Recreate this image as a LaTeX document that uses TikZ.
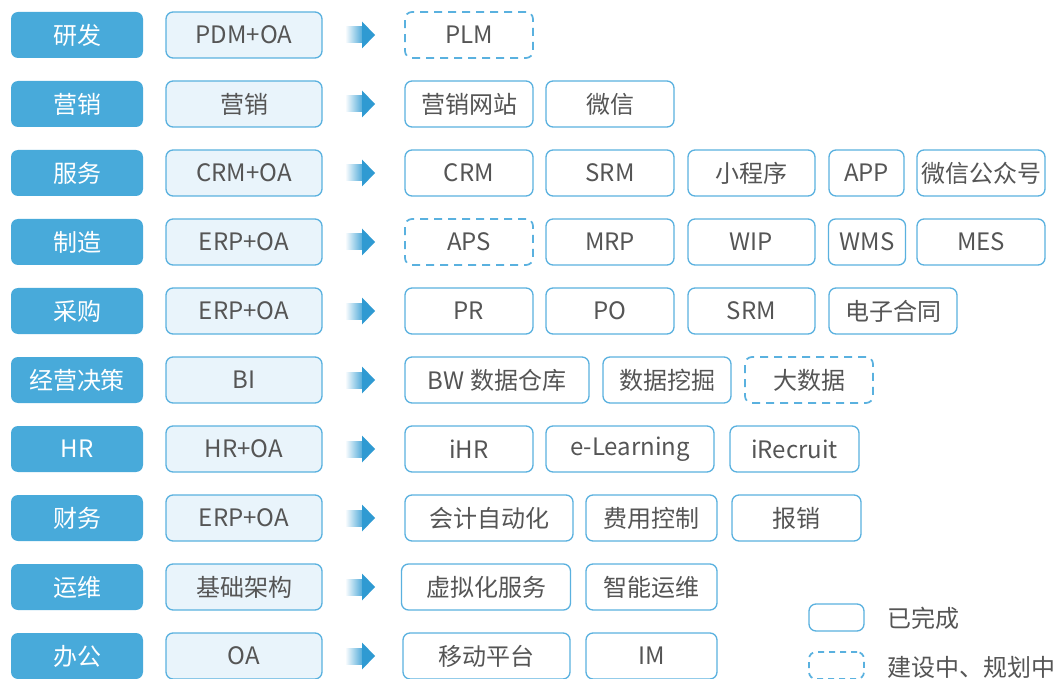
\documentclass[tikz,border=0pt]{standalone}
\usepackage{fontspec}
\setmainfont{Noto Sans CJK SC}
\definecolor{labelblue}{HTML}{48AADA}
\definecolor{lineblue}{HTML}{5AB1DF}
\definecolor{lightfill}{HTML}{E9F4FB}
\definecolor{txtgray}{HTML}{555555}
\definecolor{arrowblue}{HTML}{2F9AD2}
\tikzset{
 base/.style={rounded corners=7pt, minimum height=46pt, inner sep=0pt, font=\fontsize{24}{28}\selectfont, line width=1.3pt},
 catbox/.style={base, fill=labelblue, text=white, minimum width=132pt},
 srcbox/.style={base, draw=lineblue, fill=lightfill, text=txtgray, minimum width=156pt},
 sysbox/.style={base, draw=lineblue, fill=white, text=txtgray, minimum width=128pt},
 planbox/.style={sysbox, line width=1.7pt, dash pattern=on 8pt off 6pt},
 legtext/.style={anchor=west, inner sep=0pt, text=txtgray, font=\fontsize{24}{28}\selectfont},
}
\newcommand\rowarrow[1]{%
  \shade[left color=white, right color=arrowblue!85] (345,#1-8) rectangle (362.5,#1+8);
  \fill[arrowblue] (362,#1-13.5) -- (375,#1) -- (362,#1+13.5) -- cycle;}
\begin{document}
\begin{tikzpicture}[x=1pt,y=-1pt]
\useasboundingbox (0,0) rectangle (1058,679);
% row 1
\node[catbox] (c1) at (77,35) {研发};
\node[srcbox] (s1) at (244,35) {PDM+OA};
\rowarrow{35}
\node[planbox] (r1a) at (469,35) {PLM};
% row 2
\node[catbox] (c2) at (77,104) {营销};
\node[srcbox] (s2) at (244,104) {营销};
\rowarrow{104}
\node[sysbox] (r2a) at (469,104) {营销网站};
\node[sysbox] (r2b) at (610,104) {微信};
% row 3
\node[catbox] (c3) at (77,173) {服务};
\node[srcbox] (s3) at (244,173) {CRM+OA};
\rowarrow{173}
\node[sysbox] (r3a) at (469,173) {CRM};
\node[sysbox] (r3b) at (610,173) {SRM};
\node[sysbox, minimum width=127pt] (r3c) at (751.5,173) {小程序};
\node[sysbox, minimum width=75pt] (r3d) at (866.5,173) {APP};
\node[sysbox] (r3e) at (981,173) {微信公众号};
% row 4
\node[catbox] (c4) at (77,242) {制造};
\node[srcbox] (s4) at (244,242) {ERP+OA};
\rowarrow{242}
\node[planbox] (r4a) at (469,242) {APS};
\node[sysbox] (r4b) at (610,242) {MRP};
\node[sysbox, minimum width=127pt] (r4c) at (751.5,242) {WIP};
\node[sysbox, minimum width=77pt] (r4d) at (867,242) {WMS};
\node[sysbox] (r4e) at (981,242) {MES};
% row 5
\node[catbox] (c5) at (77,311) {采购};
\node[srcbox] (s5) at (244,311) {ERP+OA};
\rowarrow{311}
\node[sysbox] (r5a) at (469,311) {PR};
\node[sysbox] (r5b) at (610,311) {PO};
\node[sysbox, minimum width=127pt] (r5c) at (751.5,311) {SRM};
\node[sysbox] (r5d) at (893,311) {电子合同};
% row 6
\node[catbox] (c6) at (77,380) {经营决策};
\node[srcbox] (s6) at (244,380) {BI};
\rowarrow{380}
\node[sysbox, minimum width=184pt] (r6a) at (497,380) {BW 数据仓库};
\node[sysbox] (r6b) at (667,380) {数据挖掘};
\node[planbox] (r6c) at (809,380) {大数据};
% row 7
\node[catbox] (c7) at (77,449) {HR};
\node[srcbox] (s7) at (244,449) {HR+OA};
\rowarrow{449}
\node[sysbox] (r7a) at (469,449) {iHR};
\node[sysbox, minimum width=168pt] (r7b) at (630,449) {e-Learning};
\node[sysbox, minimum width=129pt] (r7c) at (794.5,449) {iRecruit};
% row 8
\node[catbox] (c8) at (77,518) {财务};
\node[srcbox] (s8) at (244,518) {ERP+OA};
\rowarrow{518}
\node[sysbox, minimum width=168pt] (r8a) at (489,518) {会计自动化};
\node[sysbox, minimum width=131pt] (r8b) at (651.5,518) {费用控制};
\node[sysbox, minimum width=129pt] (r8c) at (796.5,518) {报销};
% row 9
\node[catbox] (c9) at (77,587) {运维};
\node[srcbox] (s9) at (244,587) {基础架构};
\rowarrow{587}
\node[sysbox, minimum width=169pt] (r9a) at (486,587) {虚拟化服务};
\node[sysbox, minimum width=131pt] (r9b) at (651.5,587) {智能运维};
% row 10
\node[catbox] (c10) at (77,656) {办公};
\node[srcbox] (s10) at (244,656) {OA};
\rowarrow{656}
\node[sysbox, minimum width=167pt] (r10a) at (486.5,656) {移动平台};
\node[sysbox, minimum width=131pt] (r10b) at (651.5,656) {IM};
% legend
\node[sysbox, minimum width=55pt, minimum height=27pt] (lg1) at (836.5,617.5) {};
\node[legtext] (lt1) at (887,618) {已完成};
\node[planbox, minimum width=55pt, minimum height=27pt, dash pattern=on 6pt off 5pt] (lg2) at (836.5,665.5) {};
\node[legtext] (lt2) at (887,667) {建设中、规划中};
\end{tikzpicture}
\end{document}
